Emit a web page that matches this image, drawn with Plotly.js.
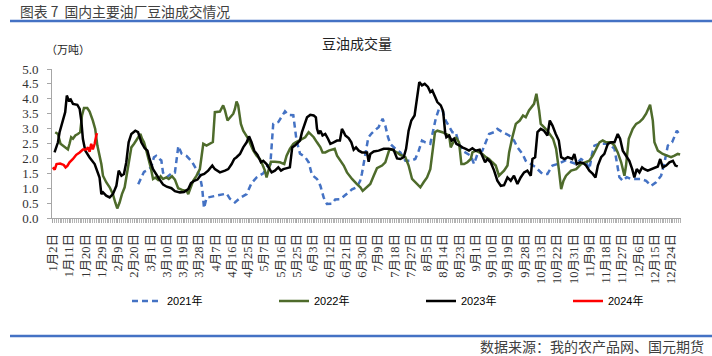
<!DOCTYPE html>
<html>
<head>
<meta charset="utf-8">
<script src="https://cdn.plot.ly/plotly-3.0.1.min.js"></script>
<style>html,body{margin:0;padding:0;background:#fff;}#chart{width:712px;height:356px;}</style>
</head>
<body>
<div id="chart"></div>
<script>
// x tick labels (one every 9 trading-day categories)
const tickLabels = ["1月2日","1月11日","1月20日","1月29日","2月9日","2月20日","3月1日","3月10日","3月19日","3月28日",
  "4月7日","4月16日","4月25日","5月7日","5月16日","5月25日","6月3日","6月12日","6月21日","6月30日",
  "7月9日","7月18日","7月27日","8月5日","8月14日","8月23日","9月1日","9月10日","9月19日","9月28日",
  "10月13日","10月22日","10月31日","11月9日","11月18日","11月27日","12月6日","12月15日","12月24日"];

// category index positions and values (万吨)
const idx2021 = [47.2,49,50.4,52.6,54.4,55.9,57.2,59,60,60.9,
  61.8,63,64.5,66.4,67.5,69,69.4,71.2,74,76.8,
  79.5,81.3,82.6,83.6,85,87.8,91.5,96.1,97.9,100.7,
  103.5,107.2,109.9,112.7,116.4,119.2,120.3,121.9,124.7,126.5,
  128.4,130.2,133,134.8,136.7,139.6,141.5,143.3,146.1,148,
  149.8,151.6,154.4,156.2,159,161.8,165.5,168.2,170,171,
  172.8,174.5,176.5,178.4,180.2,182.4,183.9,185.4,186.7,189.5,
  192.2,195,197.8,200.5,202.4,204.2,206,208.8,209.9,211.8,
  213.6,215.5,217.3,219.2,221,222.8,224.7,226.5,228.4,231.2,
  233,234.9,237.6,239.5,241.3,244.1,245.9,248.7,252.4,255.1,
  257,259.8,261.6,264.4,267.1,270.8,273.6,276.4,279.1,283.9,
  287.6,289.5,292.2,295,296.8,298.3,299.6,302.4,306.1,308.8,
  310.7,312,313.4,315.3,317.5,319.9,325.4,328.2,331,333.7,
  336.5,338.4,340.2,342.6,343.9,345.2,346.1];
const val2021 = [1.13,1.36,1.55,1.62,1.7,2.04,2.09,1.98,1.93,1.53,
  1.42,1.37,1.45,1.53,1.53,2.37,2.41,2.16,2.08,1.9,
  1.6,1.43,1.0,0.33,0.68,0.72,0.77,0.82,0.65,0.52,
  0.67,0.8,1.17,1.36,1.5,1.78,1.8,3.16,3.22,3.38,
  3.58,3.46,3.45,2.6,2.16,2.04,1.87,1.45,1.31,1.08,
  0.69,0.47,0.48,0.62,0.63,0.77,0.96,1.04,1.25,1.5,
  2.2,2.7,2.85,2.95,3.05,3.33,3.1,2.71,2.49,2.32,
  2.2,1.92,1.92,1.98,2.26,2.6,2.54,2.49,2.82,3.33,
  3.66,3.61,3.27,3.05,2.88,2.88,2.49,2.26,2.2,2.09,
  1.81,2.15,2.26,2.54,2.82,2.88,2.99,2.88,2.77,2.6,
  2.37,2.15,1.92,1.81,1.7,1.48,1.48,1.76,1.81,1.94,
  1.87,1.81,1.98,1.87,1.64,2.15,2.43,2.49,2.49,2.43,
  2.32,1.87,1.37,1.25,1.37,1.31,1.31,1.25,1.08,1.2,
  1.42,1.87,2.43,2.54,2.71,2.93,2.85];

const idx2022 = [1.3,2.8,4.2,6.5,8.3,9.2,10.1,11.1,12.4,13.8,
  15.1,16.1,17.2,19,20.3,22.1,23.4,24.6,25.8,26.8,
  27.7,29.5,31.4,33.2,34.5,35.6,36.9,38.2,39.7,41,
  42.1,43.4,44.9,46.2,47.5,48.4,49.3,50.4,51.7,53,
  54.1,55.4,56.7,58.2,59.6,60.9,62.8,64.1,65.9,67.5,
  69.3,72,74,74.9,76.4,77.6,79.5,81.3,82.3,83.2,
  85,86.9,88.5,89.6,92.4,94.2,95.2,96.6,97.9,99.8,
  100.7,101.6,102.5,104,105.3,106.6,108.1,109.6,110.9,112.7,
  114.5,115.8,117.3,118.2,119.5,120.6,122.8,125.6,128,129.3,
  131.1,133,134.3,136.1,137.8,139.6,141.5,144.3,146.1,148,
  149.2,150.7,152.6,155.9,157.2,159,160.9,162.7,165.5,168.2,
  170.1,171.4,173.8,175.6,177.5,179.3,182.1,183.9,186.1,187.6,
  190.4,192.2,195,196.8,198.7,200.5,203.3,205.1,207,208.8,
  209.9,211.4,212.7,215.5,217.3,219.2,220.1,221,222.9,224.7,
  226,227.5,229.3,231.2,232.1,233.9,235.8,237.6,239.5,241.3,
  243.1,245,246.8,249.6,251.5,252.4,254.2,256.1,258.3,260.1,
  261.6,263.4,266.2,267.5,269,269.9,271.7,273.6,276.7,278.4,
  279.9,281.2,282.5,283.9,286.7,289.5,292.2,295,296.8,298.7,
  300.5,302.4,304.2,306.1,308.8,310.7,312.5,314.4,316.2,317.1,
  318.6,320.8,322.7,324.5,326.4,328.2,330.4,331.9,332.8,334.7,
  337.4,340.2,342,343.9,345.7,347];
const val2022 = [2.88,2.82,2.49,2.37,2.3,2.49,2.71,2.66,2.77,2.82,
  2.88,3.44,3.69,3.69,3.57,3.27,2.99,2.43,2.1,1.81,
  1.42,1.2,1.03,0.8,0.52,0.32,0.52,0.8,1.03,1.53,
  1.98,2.37,2.49,2.6,2.71,2.82,2.66,2.54,2.26,1.98,
  1.7,1.31,1.36,1.28,1.4,1.31,1.36,1.31,1.4,1.29,
  1.0,0.93,0.91,0.8,1.03,1.25,1.42,1.64,2.09,2.49,
  2.43,2.49,2.55,3.55,3.57,3.78,3.61,3.27,3.38,3.5,
  3.66,3.91,3.78,3.16,2.93,2.82,2.66,2.43,2.26,2.09,
  1.98,1.81,1.59,1.36,1.64,1.89,1.89,1.87,1.81,2.09,
  2.32,2.49,2.54,2.6,2.63,2.71,2.88,2.71,2.54,2.37,
  2.2,2.2,2.26,2.32,2.09,1.92,1.76,1.53,1.31,1.14,
  1.03,0.91,1.03,1.14,1.42,1.67,1.76,1.87,2.29,2.29,
  2.2,2.12,2.04,1.76,1.31,1.2,1.03,1.2,1.36,1.64,
  2.2,2.88,2.93,2.88,2.82,2.77,2.37,2.49,2.71,2.54,
  1.81,1.81,1.87,1.98,2.2,2.26,2.2,2.15,2.04,1.98,
  1.87,1.76,1.42,1.59,1.76,2.2,2.71,3.16,3.27,3.44,
  3.38,3.61,3.83,4.17,3.61,3.16,3.05,2.93,2.66,2.32,
  1.64,0.97,1.25,1.42,1.59,1.64,1.81,1.87,1.92,2.09,
  2.32,2.54,2.6,2.54,2.54,2.43,2.2,1.87,1.42,1.76,
  2.66,2.99,3.16,3.22,3.33,3.5,3.8,3.27,2.54,2.26,
  2.15,2.09,2.04,2.09,2.15,2.13];

const idx2023 = [0.9,2.8,3.7,5.5,6.8,7.7,8.7,9.8,11.1,13.5,
  14.8,15.7,16.6,17.9,20.3,23.1,24.9,25.8,26.8,27.7,
  29.5,31.4,33.2,35.1,36.4,37.9,39.3,40.6,41.9,43.4,
  45.6,47.1,48.9,50.8,52.3,53.5,55.4,57.2,58.9,61,
  63,65.6,67.5,70.3,72.5,74.9,76.4,78.2,80,81.9,
  83.7,85.9,88.2,89.6,92.4,95.2,97,98.9,100.3,101.6,
  103.5,105.3,107.2,108.5,109.9,111.4,113.2,115.1,116.4,118.2,
  121,122.8,124.7,126.2,127.5,131.1,132.4,133.9,135.4,136.7,
  137.8,139.3,140.6,142.4,144.3,145.5,146.1,147,148,149.2,
  150.7,152.2,153.5,155.3,157.2,158.8,159.9,160.9,161.8,163.6,
  165.1,166.4,167.7,169.2,171,173.8,174.7,175.6,177.5,180.2,
  183,185.8,188.5,190.4,192.2,194.1,195.4,196.8,198.3,200.1,
  201.4,202.7,204.2,205.7,207.5,208.8,209.9,211.4,212.7,214.6,
  215.9,217,217.7,219.2,220.6,221.9,223.2,225.1,226.5,228.4,
  230.2,232.1,233.9,236.1,237.6,239.1,240.4,242.2,244.1,245.9,
  247.8,249.6,251.5,253.3,255.1,257,258.8,260.7,262.5,264.4,
  265.3,266.8,268.1,269.9,271.7,273.6,274.9,276.4,278.2,279.9,
  281.2,283,284.9,287.3,288.5,289.8,291.7,293.5,295,296.8,
  298.7,300.2,301.5,303.3,305.1,307,308.8,310.7,312.5,313.8,
  315.3,317.1,318.9,320.5,321.7,323,324.5,326,327.3,329.1,
  331,332.8,334.7,336,337.4,339.3,341.1,343,344.4,345.7];
const val2023 = [2.2,2.54,2.88,3.27,3.55,4.11,3.95,3.98,3.83,3.8,
  3.66,3.27,2.65,2.26,2.03,1.81,1.53,1.36,0.8,0.86,
  0.75,0.69,0.8,1.08,1.59,1.42,1.48,1.87,2.54,2.82,
  2.93,2.88,2.54,2.34,2.26,1.98,1.64,1.45,1.3,1.12,
  1.05,1.0,0.9,0.86,0.87,0.97,1.17,1.25,1.29,1.44,
  1.48,1.59,1.76,1.64,1.53,1.59,1.64,1.81,1.98,2.04,
  2.15,2.37,2.54,2.74,2.54,2.26,2.12,1.87,1.92,1.81,
  1.53,1.59,1.7,1.59,1.64,1.7,2.37,2.43,2.54,2.6,
  2.88,3.16,3.38,3.46,3.44,3.38,3.0,2.82,2.93,2.77,
  2.82,2.66,2.49,2.54,2.6,2.6,2.99,2.88,2.77,2.68,
  2.54,2.29,2.37,2.26,2.2,2.2,1.89,2.15,2.23,2.26,
  2.32,2.32,2.29,2.0,1.98,2.04,2.32,2.93,3.27,3.44,
  4.06,4.56,4.45,4.5,4.4,4.23,4.28,4.06,3.89,3.78,
  3.58,2.88,2.71,2.77,2.6,2.66,2.49,2.43,2.37,2.32,
  2.26,2.34,2.26,2.29,2.09,1.87,1.98,1.87,1.59,1.25,
  1.08,1.1,1.36,1.25,1.42,1.14,1.36,1.53,1.59,1.42,
  1.98,2.04,2.88,2.99,2.93,2.77,3.27,3.1,2.82,2.6,
  2.04,1.98,2.04,1.98,2.15,1.81,1.87,1.84,1.76,1.59,
  1.48,1.36,1.76,2.04,2.15,2.49,2.54,2.54,2.82,2.66,
  2.26,2.09,1.92,1.64,1.36,1.64,1.53,1.7,1.64,1.59,
  1.64,1.7,1.73,1.98,1.7,1.76,1.87,1.92,1.76,1.73];

const idx2024 = [0,1,2,4,6,7,8,9.2,11.1,12.9,14.8,16.6,18.5,19.4,20.3,21.2,22.1,23.1,24,24.4];
const val2024 = [1.7,1.62,1.81,1.83,1.78,1.7,1.75,1.87,1.98,2.12,2.2,2.3,2.3,2.37,2.22,2.49,2.3,2.49,2.77,2.85];

const seriesNames = ["2021年","2022年","2023年","2024年"];

// ---- layout helpers (pixel -> paper) ----
const W = 712, H = 356, ML = 52, MR = 31, MT = 69, MB = 138;
const PW = W - ML - MR, PH = H - MT - MB;
const px = p => (p - ML) / PW;
const py = p => (H - MB - p) / PH;

const traces = [
  {x: idx2021, y: val2021, name: seriesNames[0], line: {color: '#4472C4', width: 2.5, dash: '6px,4px'}},
  {x: idx2022, y: val2022, name: seriesNames[1], line: {color: '#4e6b2b', width: 2.5}},
  {x: idx2023, y: val2023, name: seriesNames[2], line: {color: '#000000', width: 2.5}},
  {x: idx2024, y: val2024, name: seriesNames[3], line: {color: '#ff0000', width: 2.5}}
].map(t => Object.assign({type: 'scatter', mode: 'lines', hoverinfo: 'skip'}, t));

const cjkSans = '"Noto Sans CJK SC", "Noto Sans", sans-serif';
const serif = '"Liberation Serif", "Noto Sans CJK SC", serif';

const layout = {
  width: W, height: H,
  margin: {l: ML, r: MR, t: MT, b: MB, pad: 0},
  paper_bgcolor: '#ffffff', plot_bgcolor: '#ffffff',
  showlegend: true,
  xaxis: {
    range: [-0.5, 347.5],
    tickmode: 'array',
    tickvals: tickLabels.map((_, k) => k * 9),
    ticktext: tickLabels,
    tickangle: -90,
    ticks: 'outside', ticklen: 4, tickcolor: '#a6a6a6', tickwidth: 1,
    minor: {tickmode: 'linear', tick0: 0, dtick: 1, ticks: 'outside', ticklen: 4, tickcolor: '#b4b4b4', tickwidth: 1, showgrid: false},
    showline: true, linecolor: '#a6a6a6', linewidth: 1,
    showgrid: false, zeroline: false,
    ticklabelstandoff: 6,
    tickfont: {family: serif, size: 12.5, color: '#333333'},
    fixedrange: true
  },
  yaxis: {
    range: [0, 5],
    tickmode: 'linear', tick0: 0, dtick: 0.5,
    tickformat: '.1f',
    ticks: 'outside', ticklen: 4, tickcolor: '#a6a6a6', tickwidth: 1,
    showline: true, linecolor: '#a6a6a6', linewidth: 1,
    showgrid: false, zeroline: false,
    ticklabelstandoff: 6,
    tickfont: {family: serif, size: 13, color: '#333333'},
    fixedrange: true
  },
  legend: {
    orientation: 'h',
    xref: 'container', yref: 'container',
    x: 127 / W, y: 1 - 301 / H,
    xanchor: 'left', yanchor: 'middle',
    entrywidth: 102, entrywidthmode: 'pixels',
    itemwidth: 30,
    font: {family: '"Liberation Sans", Arial, "Noto Sans CJK SC", sans-serif', size: 11, color: '#000000'},
    bgcolor: 'rgba(0,0,0,0)'
  },
  shapes: [
    {type: 'line', xref: 'paper', yref: 'paper', x0: px(10), x1: px(712), y0: py(21), y1: py(21), line: {color: '#4472C4', width: 2.5}},
    {type: 'line', xref: 'paper', yref: 'paper', x0: px(10), x1: px(712), y0: py(336), y1: py(336), line: {color: '#4472C4', width: 2.5}}
  ],
  annotations: [
    {text: '图表 7  国内主要油厂豆油成交情况', xref: 'paper', yref: 'paper', x: px(18), y: py(11), xanchor: 'left', yanchor: 'middle', showarrow: false, font: {family: cjkSans, size: 13.8, color: '#404040'}},
    {text: '（万吨）', xref: 'paper', yref: 'paper', x: px(44), y: py(50), xanchor: 'left', yanchor: 'middle', showarrow: false, font: {family: serif, size: 11, color: '#222222'}},
    {text: '豆油成交量', xref: 'paper', yref: 'paper', x: px(357), y: py(44), xanchor: 'center', yanchor: 'middle', showarrow: false, font: {family: serif, size: 14, color: '#222222'}},
    {text: '数据来源：我的农产品网、国元期货', xref: 'paper', yref: 'paper', x: px(706), y: py(346), xanchor: 'right', yanchor: 'middle', showarrow: false, font: {family: cjkSans, size: 14, color: '#404040'}}
  ]
};

Plotly.newPlot('chart', traces, layout, {staticPlot: true, displayModeBar: false});
</script>
</body>
</html>
